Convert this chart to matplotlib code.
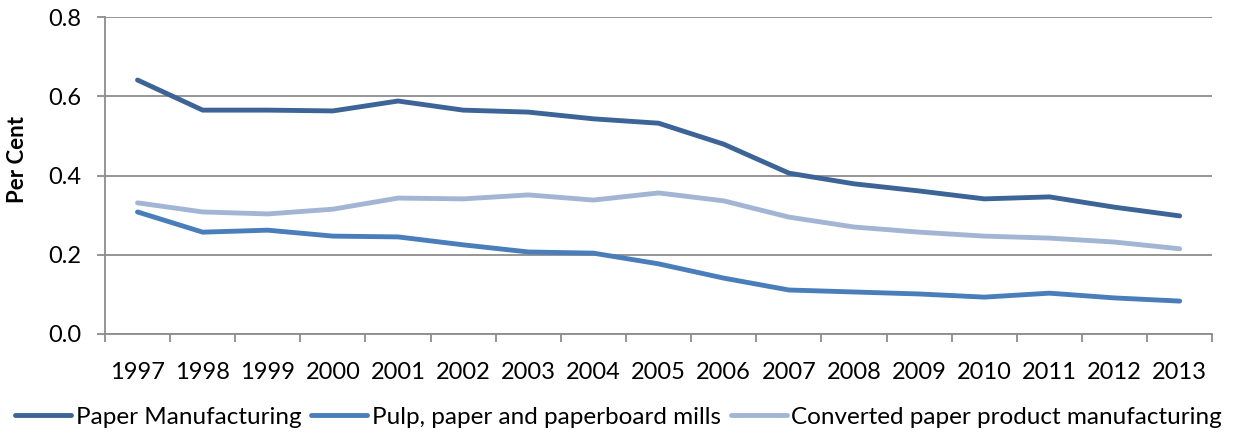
import matplotlib
matplotlib.use('Agg')
import matplotlib.pyplot as plt

plt.rcParams['font.family'] = ['Lato', 'DejaVu Sans']

years = ['1997', '1998', '1999', '2000', '2001', '2002', '2003', '2004', '2005',
         '2006', '2007', '2008', '2009', '2010', '2011', '2012', '2013']
paper_manufacturing = [0.641, 0.565, 0.565, 0.563, 0.588, 0.565, 0.560, 0.543, 0.532,
                       0.479, 0.406, 0.379, 0.361, 0.341, 0.346, 0.320, 0.298]
pulp_mills = [0.308, 0.257, 0.262, 0.247, 0.245, 0.225, 0.207, 0.204, 0.177,
              0.141, 0.111, 0.106, 0.101, 0.093, 0.103, 0.091, 0.083]
converted_paper = [0.331, 0.308, 0.303, 0.315, 0.343, 0.341, 0.351, 0.338, 0.356,
                   0.336, 0.295, 0.270, 0.257, 0.247, 0.242, 0.232, 0.215]

fig = plt.figure(figsize=(12.39, 4.32), dpi=100)
ax = fig.add_axes([0.0847, 0.2269, 0.8937, 0.7337])

x = list(range(len(years)))
ax.plot(x, paper_manufacturing, color='#3C6497', lw=3.5, label='Paper Manufacturing', solid_capstyle='round')
ax.plot(x, pulp_mills, color='#4A7EBB', lw=3.5, label='Pulp, paper and paperboard mills', solid_capstyle='round')
ax.plot(x, converted_paper, color='#A3B5D4', lw=3.5, label='Converted paper product manufacturing', solid_capstyle='round')

ax.set_xlim(-0.5, len(years) - 0.5)
ax.set_ylim(0, 0.8)
ax.set_yticks([0, 0.2, 0.4, 0.6, 0.8])
ax.set_yticklabels(['0.0', '0.2', '0.4', '0.6', '0.8'], fontsize=17)
ax.set_xticks(x)
ax.set_xticklabels(years, fontsize=17)
ax.set_xticks([i - 0.5 for i in range(len(years) + 1)], minor=True)
ax.tick_params(axis='x', which='major', length=0, pad=20)
ax.tick_params(axis='x', which='minor', length=6, color='#8C8C8C', width=1.3)
ax.tick_params(axis='y', length=6, color='#8C8C8C', width=1.3, pad=11)

ax.grid(axis='y', color='#8C8C8C', lw=1.3)
ax.set_axisbelow(True)
for side in ['top', 'right']:
    ax.spines[side].set_visible(False)
for side in ['left', 'bottom']:
    ax.spines[side].set_color('#8C8C8C')
    ax.spines[side].set_linewidth(1.3)

ax.set_ylabel('Per Cent', fontsize=16, fontweight='bold')
ax.yaxis.set_label_coords(-0.0696, 0.549)

ax.legend(loc='center', bbox_to_anchor=(0.4639, -0.262), ncol=3, frameon=False,
          fontsize=17.5, handlelength=2.3, handletextpad=0.2, columnspacing=0.4,
          borderaxespad=0, borderpad=0)

fig.savefig('out.png', dpi=100)
plt.close()
